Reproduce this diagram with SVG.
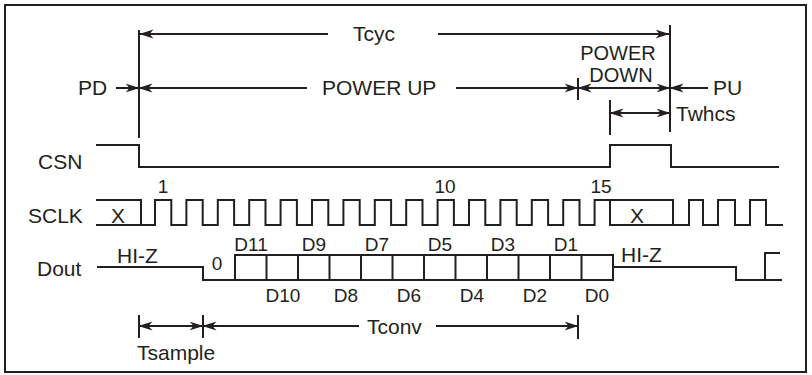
<svg xmlns="http://www.w3.org/2000/svg" width="812" height="375" viewBox="0 0 812 375">
<style>
.ln{fill:none;stroke:#231f20;stroke-width:2}
.ar{fill:none;stroke:#231f20;stroke-width:2}
.t{font-family:"Liberation Sans",Arial,sans-serif;font-size:21px;fill:#231f20}
.s{font-family:"Liberation Sans",Arial,sans-serif;font-size:19px;fill:#231f20}
.p{font-size:20px}
.m{text-anchor:middle}
</style>
<defs>
<marker id="ah" viewBox="0 0 14 10" refX="13.5" refY="5" markerWidth="14" markerHeight="10" markerUnits="userSpaceOnUse" orient="auto-start-reverse">
<path d="M0,0.5 L14,5 L0,9.5 L4,5 z" fill="#231f20"/>
</marker>
</defs>
<rect x="5" y="5" width="801" height="367" fill="#fff" stroke="#231f20" stroke-width="2"/>

<g id="connectors">
<line class="ln" x1="139" y1="30" x2="139" y2="138"/>
<line class="ln" x1="670" y1="25" x2="670" y2="132"/>
<line class="ln" x1="578" y1="78" x2="578" y2="100"/>
<line class="ln" x1="610" y1="100" x2="610" y2="135"/>
<line class="ln" x1="139" y1="315" x2="139" y2="338"/>
<line class="ln" x1="203" y1="315" x2="203" y2="338"/>
<line class="ln" x1="578" y1="315" x2="578" y2="339"/>
<line class="ar" x1="328" y1="34" x2="140" y2="34" marker-end="url(#ah)"/>
<line class="ar" x1="438" y1="34" x2="669" y2="34" marker-end="url(#ah)"/>
<line class="ar" x1="116" y1="88" x2="139" y2="88" marker-end="url(#ah)"/>
<line class="ar" x1="307" y1="88" x2="139" y2="88" marker-end="url(#ah)"/>
<line class="ar" x1="456" y1="88" x2="578" y2="88" marker-end="url(#ah)"/>
<line class="ar" x1="578" y1="88" x2="670" y2="88" marker-start="url(#ah)" marker-end="url(#ah)"/>
<line class="ar" x1="708" y1="88" x2="670" y2="88" marker-end="url(#ah)"/>
<line class="ar" x1="610" y1="113" x2="670" y2="113" marker-start="url(#ah)" marker-end="url(#ah)"/>
<line class="ar" x1="139" y1="326" x2="203" y2="326" marker-start="url(#ah)" marker-end="url(#ah)"/>
<line class="ar" x1="359" y1="326" x2="203" y2="326" marker-end="url(#ah)"/>
<line class="ar" x1="436" y1="326" x2="578" y2="326" marker-end="url(#ah)"/>
</g>

<g id="labels">
<text class="t" x="353" y="41">Tcyc</text>
<text class="t" x="78" y="95">PD</text>
<text class="t" x="322" y="95">POWER UP</text>
<text class="t p m" x="618" y="60">POWER</text>
<text class="t p m" x="621" y="82">DOWN</text>
<text class="t" x="713" y="95">PU</text>
<text class="t" x="676" y="121">Twhcs</text>
<text class="t" x="367" y="334">Tconv</text>
<text class="t" x="137" y="360">Tsample</text>
</g>

<g id="csn">
<text class="t" x="38" y="169">CSN</text>
<path class="ln" d="M96,145 H139 V167 H610 V145 H671 V167 H779"/>
</g>

<g id="sclk">
<text class="t" x="28" y="223">SCLK</text>
<text class="t m" x="118" y="223">X</text>
<text class="t m" x="637" y="223">X</text>
<text class="s m" x="163" y="193">1</text>
<text class="s m" x="445" y="193">10</text>
<text class="s m" x="601" y="193">15</text>
<path class="ln" d="M96,200 H141 V225"/>
<path class="ln" d="M96,225 H155 V200 H171.3 V225 H186.4 V200 H202.7 V225 H217.8 V200 H234.1 V225 H249.2 V200 H265.5 V225 H280.6 V200 H296.9 V225 H312 V200 H328.3 V225 H343.4 V200 H359.7 V225 H374.8 V200 H391.1 V225 H406.2 V200 H422.5 V225 H437.6 V200 H453.9 V225 H469 V200 H485.3 V225 H500.4 V200 H516.7 V225 H531.8 V200 H548.1 V225 H563.2 V200 H579.5 V225 H594.6 V200 H673 V225"/>
<path class="ln" d="M610,200 V225 H689 V200 H703 V225 H718 V200 H735 V225 H750 V200 H766 V225 H783"/>
</g>

<g id="dout">
<text class="t" x="37" y="276">Dout</text>
<text class="t" x="117" y="263">HI-Z</text>
<text class="t" x="621" y="262">HI-Z</text>
<text class="s m" x="217" y="270">0</text>
<path class="ln" d="M97,267 H203 V280 H613 V255 H235 V280"/>
<path class="ln" d="M266.5,255 V280 M298,255 V280 M329.5,255 V280 M361,255 V280 M392.5,255 V280 M424,255 V280 M455.5,255 V280 M487,255 V280 M518.5,255 V280 M550,255 V280 M581.5,255 V280"/>
<path class="ln" d="M613,267 H736 V280 H782 M765,280 V253 H780"/>
<text class="s m" x="251" y="251">D11</text>
<text class="s m" x="314" y="251">D9</text>
<text class="s m" x="377" y="251">D7</text>
<text class="s m" x="440" y="251">D5</text>
<text class="s m" x="503" y="251">D3</text>
<text class="s m" x="566" y="251">D1</text>
<text class="s m" x="283" y="302">D10</text>
<text class="s m" x="346" y="302">D8</text>
<text class="s m" x="409" y="302">D6</text>
<text class="s m" x="472" y="302">D4</text>
<text class="s m" x="535" y="302">D2</text>
<text class="s m" x="597" y="302">D0</text>
</g>
</svg>
